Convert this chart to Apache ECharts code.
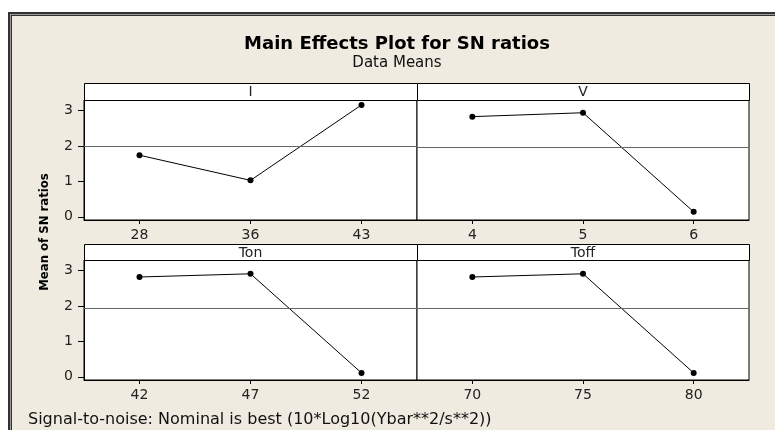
<!DOCTYPE html>
<html>
<head>
<meta charset="utf-8">
<script src="https://cdn.jsdelivr.net/npm/echarts@6/dist/echarts.min.js"></script>
<style>
  html, body { margin: 0; padding: 0; background: #fff; overflow: hidden; }
  #frame {
    position: absolute; left: 8px; top: 12px; width: 900px; height: 600px;
    background: #efebe0;
    border-left: 2px solid #333; border-top: 2px solid #333;
    box-shadow: inset 1px 1px 0 #999, inset 2px 2px 0 #333;
  }
  #chart { position: absolute; left: 0; top: 0; width: 775px; height: 430px; }
</style>
</head>
<body>
<div id="frame"></div>
<div id="chart"></div>
<script>
// factor levels (x categories)
const levelsI = ['28', '36', '43'];
const levelsV = ['4', '5', '6'];
const levelsTon = ['42', '47', '52'];
const levelsToff = ['70', '75', '80'];

// mean of SN ratios per level
const snI = [1.74, 1.03, 3.16];
const snV = [2.83, 2.94, 0.14];
const snTon = [2.82, 2.91, 0.11];
const snToff = [2.82, 2.91, 0.11];

const yTicks = [0, 1, 2, 3];
const panelNames = ['I', 'V', 'Ton', 'Toff'];

const FONT = '"DejaVu Sans", Verdana, sans-serif';
const levels = [levelsI, levelsV, levelsTon, levelsToff];
const values = [snI, snV, snTon, snToff];

const myChart = echarts.init(document.getElementById('chart'));

// panel boxes: left column / right column, top row / bottom row
const cols = [{left: 84, width: 333}, {left: 417, width: 332}];
const rows = [{top: 100, strip: 83}, {top: 260, strip: 244}];

const grids = [], xAxes = [], yAxes = [], series = [], graphics = [];

panelNames.forEach(function (name, i) {
  const c = cols[i % 2], r = rows[Math.floor(i / 2)];
  grids.push({
    left: c.left, top: r.top, width: c.width, height: 120,
    show: true, backgroundColor: '#fff', borderColor: '#000', borderWidth: 1
  });
  xAxes.push({
    type: 'category', gridIndex: i, data: levels[i], boundaryGap: true,
    axisLine: {show: true, onZero: false, lineStyle: {color: '#000', width: 1}},
    axisTick: {show: true, alignWithLabel: true, length: 4, lineStyle: {color: '#000'}},
    axisLabel: {color: '#222', fontSize: 14, fontFamily: FONT, margin: 8}
  });
  const isLeft = i % 2 === 0;
  yAxes.push({
    type: 'value', gridIndex: i, min: -0.09, max: 3.3,
    splitLine: {show: false},
    axisLine: {show: isLeft, lineStyle: {color: '#000', width: 1}},
    axisTick: {show: isLeft, customValues: yTicks, length: 6, lineStyle: {color: '#000'}},
    axisLabel: {show: isLeft, customValues: yTicks, color: '#222', fontSize: 14, fontFamily: FONT, margin: 11}
  });
  series.push({
    type: 'line', xAxisIndex: i, yAxisIndex: i, data: values[i],
    symbol: 'circle', symbolSize: 6,
    lineStyle: {color: '#000', width: 1},
    itemStyle: {color: '#000'},
    markLine: {
      silent: true, symbol: 'none',
      label: {show: false},
      lineStyle: {color: '#666', width: 1, type: 'solid'},
      data: [{type: 'average'}]
    }
  });
  // strip header with the factor name
  graphics.push({
    type: 'rect',
    shape: {x: c.left + 0.5, y: r.strip + 0.5, width: c.width, height: r.top - r.strip},
    style: {fill: '#fff', stroke: '#000', lineWidth: 1}
  });
  graphics.push({
    type: 'text', x: c.left + c.width / 2, y: (r.strip + r.top) / 2 + 1,
    style: {text: name, fill: '#222', font: '14px ' + FONT, textAlign: 'center', textVerticalAlign: 'middle'}
  });
});

graphics.push(
  {
    type: 'text', x: 397, y: 44,
    style: {text: 'Main Effects Plot for SN ratios', fill: '#000', font: 'bold 18px ' + FONT,
            textAlign: 'center', textVerticalAlign: 'middle'}
  },
  {
    type: 'text', x: 397, y: 63,
    style: {text: 'Data Means', fill: '#111', font: '15px ' + FONT,
            textAlign: 'center', textVerticalAlign: 'middle'}
  },
  {
    type: 'text', x: 45, y: 232, rotation: Math.PI / 2,
    style: {text: 'Mean of SN ratios', fill: '#000',
            font: 'bold 13px "DejaVu Sans Condensed", "DejaVu Sans", sans-serif',
            textAlign: 'center', textVerticalAlign: 'middle'}
  },
  {
    type: 'text', x: 28, y: 420,
    style: {text: 'Signal-to-noise: Nominal is best (10*Log10(Ybar**2/s**2))', fill: '#111',
            font: '16px ' + FONT, textAlign: 'left', textVerticalAlign: 'middle'}
  }
);

const option = {
  backgroundColor: 'transparent',
  animation: false,
  grid: grids,
  xAxis: xAxes,
  yAxis: yAxes,
  series: series,
  graphic: graphics
};

myChart.setOption(option);
</script>
</body>
</html>
